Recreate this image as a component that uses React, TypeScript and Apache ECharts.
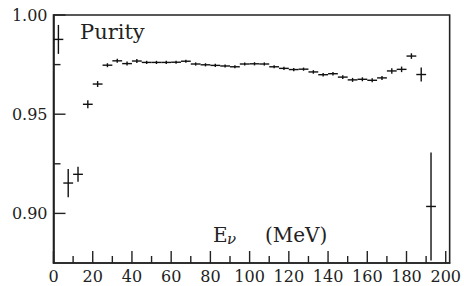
import React, { useEffect, useRef } from "react";
import * as echarts from "echarts";

// Bin centres (MeV), bin half width 2.5 MeV
const energyBins = [
  2.5, 7.5, 12.5, 17.5, 22.5, 27.5, 32.5, 37.5, 42.5, 47.5,
  52.5, 57.5, 62.5, 67.5, 72.5, 77.5, 82.5, 87.5, 92.5, 97.5,
  102.5, 107.5, 112.5, 117.5, 122.5, 127.5, 132.5, 137.5, 142.5, 147.5,
  152.5, 157.5, 162.5, 167.5, 172.5, 177.5, 182.5, 187.5, 192.5,
];
const binHalfWidth = 2.5;
const purity = [
  0.9877, 0.9153, 0.9197, 0.955, 0.9652, 0.9747, 0.9769, 0.9755, 0.9768, 0.9761,
  0.9761, 0.9761, 0.9762, 0.9767, 0.9753, 0.9749, 0.9746, 0.9743, 0.9739, 0.9753,
  0.9754, 0.9753, 0.9739, 0.9731, 0.9725, 0.9727, 0.9713, 0.9699, 0.9704, 0.9687,
  0.9673, 0.9676, 0.9671, 0.9683, 0.9718, 0.9726, 0.9793, 0.97, 0.9035,
];
const purityErr = [
  0.0073, 0.0071, 0.0038, 0.002, 0.0015, 0.001, 0.001, 0.001, 0.001, 0.0008,
  0.0008, 0.0008, 0.0008, 0.0008, 0.0008, 0.0008, 0.0008, 0.0008, 0.0008, 0.0008,
  0.0008, 0.0008, 0.0008, 0.0008, 0.0008, 0.0008, 0.0009, 0.0009, 0.0009, 0.0009,
  0.001, 0.001, 0.001, 0.001, 0.0014, 0.0014, 0.0014, 0.0035, 0.0272,
];
const xMajorTicks = [0, 20, 40, 60, 80, 100, 120, 140, 160, 180, 200];
const xMinorTicks = [10, 30, 50, 70, 90, 110, 130, 150, 170, 190];
const yMajorTicks = [0.9, 0.95, 1.0];
const yMinorTicks = [0.925, 0.975];

const X_MIN = 0;
const X_MAX = 202;
const Y_MIN = 0.875;
const Y_MAX = 1.0;

const FONT = '"DejaVu Serif", serif';
const INK = "#222";

export default function App() {
  const ref = useRef<HTMLDivElement>(null);
  useEffect(() => {
    if (!ref.current) return;
    const chart = echarts.init(ref.current, null, { renderer: "svg" });
    const data = energyBins.map((x, i) => [x, purity[i], purityErr[i]]);

    const xTickData = [
      ...xMajorTicks.map((v) => [v, Y_MIN, 12]),
      ...xMinorTicks.map((v) => [v, Y_MIN, 7]),
    ];
    const yTickData = [
      ...yMajorTicks.map((v) => [X_MIN, v, 12]),
      ...yMinorTicks.map((v) => [X_MIN, v, 7]),
    ];

    chart.setOption({
      animation: false,
      grid: {
        left: 53.5,
        top: 15,
        right: 13,
        bottom: 23,
        show: true,
        borderColor: INK,
        borderWidth: 1.6,
        backgroundColor: "transparent",
      },
      xAxis: {
        type: "value",
        min: X_MIN,
        max: X_MAX,
        splitLine: { show: false },
        axisLine: { show: true, lineStyle: { color: INK, width: 1.6 } },
        axisTick: { show: false },
        axisLabel: {
          show: true,
          customValues: xMajorTicks,
          margin: 5,
          fontFamily: FONT,
          fontSize: 16,
          color: INK,
        },
      },
      yAxis: {
        type: "value",
        min: Y_MIN,
        max: Y_MAX,
        splitLine: { show: false },
        axisLine: { show: true, lineStyle: { color: INK, width: 1.6 } },
        axisTick: { show: false },
        axisLabel: {
          show: true,
          customValues: yMajorTicks,
          margin: 6,
          fontFamily: FONT,
          fontSize: 16,
          color: INK,
          padding: [4, 0, 0, 0],
          formatter: (v: number) => v.toFixed(2),
        },
      },
      series: [
        {
          type: "custom",
          data,
          encode: { x: 0, y: 1 },
          clip: true,
          renderItem: (params: any, api: any) => {
            const x = api.value(0);
            const y = api.value(1);
            const e = api.value(2);
            const pL = api.coord([x - binHalfWidth, y]);
            const pR = api.coord([x + binHalfWidth, y]);
            const pT = api.coord([x, y + e]);
            const pB = api.coord([x, y - e]);
            return {
              type: "group",
              children: [
                { type: "line", shape: { x1: pL[0], y1: pL[1], x2: pR[0], y2: pR[1] }, style: { stroke: "#111", lineWidth: 1.4 } },
                { type: "line", shape: { x1: pT[0], y1: pT[1], x2: pB[0], y2: pB[1] }, style: { stroke: "#111", lineWidth: 1.4 } },
              ],
            };
          },
        },
        {
          type: "custom",
          data: xTickData,
          encode: { x: 0, y: 1 },
          clip: false,
          silent: true,
          z: 10,
          renderItem: (params: any, api: any) => {
            const p = api.coord([api.value(0), api.value(1)]);
            const len = api.value(2);
            return {
              type: "line",
              shape: { x1: p[0], y1: p[1], x2: p[0], y2: p[1] - len },
              style: { stroke: INK, lineWidth: 1.4 },
            };
          },
        },
        {
          type: "custom",
          data: yTickData,
          encode: { x: 0, y: 1 },
          clip: false,
          silent: true,
          z: 10,
          renderItem: (params: any, api: any) => {
            const p = api.coord([api.value(0), api.value(1)]);
            const len = api.value(2);
            return {
              type: "line",
              shape: { x1: p[0], y1: p[1], x2: p[0] + len, y2: p[1] },
              style: { stroke: INK, lineWidth: 1.4 },
            };
          },
        },
      ],
      graphic: [
        {
          type: "text",
          x: 80,
          y: 32,
          style: { text: "Purity", font: `21px ${FONT}`, fill: INK, align: "left", verticalAlign: "middle" },
        },
        {
          type: "text",
          x: 213,
          y: 235,
          style: { text: "E", font: `20px ${FONT}`, fill: INK, align: "left", verticalAlign: "middle" },
        },
        {
          type: "text",
          x: 227,
          y: 239,
          style: { text: "ν", font: `italic 15px ${FONT}`, fill: INK, align: "left", verticalAlign: "middle" },
        },
        {
          type: "text",
          x: 265,
          y: 235,
          style: { text: "(MeV)", font: `20px ${FONT}`, fill: INK, align: "left", verticalAlign: "middle" },
        },
      ],
    });
    return () => chart.dispose();
  }, []);
  return (
    <div
      ref={ref}
      style={{ position: "fixed", left: 0, top: 0, width: 464, height: 286, background: "#fff" }}
    />
  );
}
